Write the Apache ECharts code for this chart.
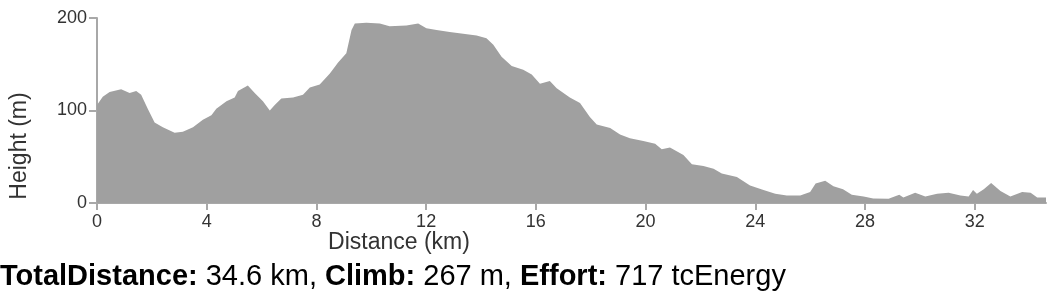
<!DOCTYPE html>
<html>
<head>
<meta charset="utf-8">
<script src="https://cdn.jsdelivr.net/npm/echarts@6/dist/echarts.min.js"></script>
<style>
html,body{margin:0;padding:0;background:#fff;}
#chart{width:1058px;height:298px;}
</style>
</head>
<body>
<div id="chart"></div>
<script>
var distanceKm = [0, 0.21, 0.46, 0.88, 1.19, 1.43, 1.61, 1.85, 2.1, 2.4,
  2.83, 3.13, 3.5, 3.86, 4.17, 4.35, 4.72, 5.02, 5.14, 5.5,
  5.75, 6.05, 6.3, 6.48, 6.72, 7.15, 7.51, 7.76, 8.12, 8.49,
  8.79, 9.09, 9.28, 9.4, 9.82, 10.31, 10.67, 11.28, 11.71, 12.01,
  12.38, 12.86, 13.35, 13.84, 14.2, 14.45, 14.75, 15.12, 15.54, 15.85,
  16.15, 16.51, 16.76, 17.24, 17.61, 17.97, 18.22, 18.71, 19.07, 19.43,
  19.92, 20.35, 20.59, 20.89, 21.38, 21.69, 22.11, 22.48, 22.78, 23.33,
  23.81, 24.3, 24.73, 25.15, 25.64, 26.0, 26.2, 26.55, 26.85, 27.2,
  27.52, 27.95, 28.3, 28.86, 29.25, 29.4, 29.83, 30.2, 30.63, 31.05,
  31.48, 31.78, 31.94, 32.08, 32.33, 32.6, 32.94, 33.3, 33.73, 34.04,
  34.28, 34.6];
var heightM = [106, 115, 120, 123, 119, 121, 117, 102, 87, 82,
  76, 77, 82, 90, 95, 102, 110, 114, 121, 127,
  119, 110, 100, 106, 113, 114, 117, 125, 128, 140,
  152, 162, 187, 194, 195, 194, 191, 192, 194, 189,
  187, 185, 183, 181, 178, 171, 158, 148, 144, 139,
  129, 132, 124, 114, 108, 93, 85, 81, 74, 70,
  67, 64, 58, 60, 52, 42, 40, 37, 32, 28,
  19, 14, 10, 8, 8, 12, 21, 24, 18, 15,
  9, 7, 5, 4.5, 9, 6, 11, 7, 10, 11,
  8, 7, 14, 10, 15, 21.5, 13, 7, 12, 11,
  6, 6];
var xTicks = [0, 4, 8, 12, 16, 20, 24, 28, 32];
var yTicks = [0, 100, 200];
var totalDistance = 34.6;
var climb = 267;
var effort = 717;

var FONT = '"Liberation Sans", Arial, Helvetica, sans-serif';
var pts = distanceKm.map(function (d, i) { return [d, heightM[i]]; });

var chart = echarts.init(document.getElementById('chart'), null, {renderer: 'canvas'});
chart.setOption({
  animation: false,
  grid: {left: 97, right: 12, top: 18, bottom: 95, containLabel: false},
  xAxis: {
    type: 'value',
    min: 0,
    max: totalDistance,
    splitLine: {show: false},
    axisLine: {show: true, lineStyle: {color: '#a8a8a8', width: 2}},
    axisTick: {show: true, length: 7, customValues: xTicks, lineStyle: {color: '#a8a8a8', width: 2}},
    axisLabel: {customValues: xTicks, margin: 10, fontSize: 18, color: '#333', fontFamily: FONT}
  },
  yAxis: {
    type: 'value',
    min: 0,
    max: 200,
    interval: 100,
    splitLine: {show: false},
    axisLine: {show: true, lineStyle: {color: '#a8a8a8', width: 2}},
    axisTick: {show: true, length: 8, customValues: yTicks, lineStyle: {color: '#a8a8a8', width: 2}},
    axisLabel: {customValues: yTicks, margin: 10, fontSize: 18, color: '#333', fontFamily: FONT}
  },
  series: [{
    type: 'line',
    data: pts,
    showSymbol: false,
    smooth: false,
    lineStyle: {width: 0},
    areaStyle: {color: '#a0a0a0', opacity: 1},
    z: 1
  }],
  graphic: [
    {
      type: 'text',
      x: 20, y: 146,
      rotation: Math.PI / 2,
      style: {text: 'Height (m)', fontSize: 23, fontFamily: FONT, fill: '#333', align: 'center', verticalAlign: 'middle'}
    },
    {
      type: 'text',
      x: 399, y: 243,
      style: {text: 'Distance (km)', fontSize: 23, fontFamily: FONT, fill: '#333', align: 'center', verticalAlign: 'middle'}
    },
    {
      type: 'text',
      x: 0, y: 277,
      style: {
        text: '{b|TotalDistance:} ' + totalDistance + ' km, {b|Climb:} ' + climb + ' m, {b|Effort:} ' + effort + ' tcEnergy',
        fontSize: 29, fontFamily: FONT, fill: '#000', align: 'left', verticalAlign: 'middle',
        rich: {b: {fontSize: 29, fontFamily: FONT, fontWeight: 'bold', fill: '#000'}}
      }
    }
  ]
});
</script>
</body>
</html>
